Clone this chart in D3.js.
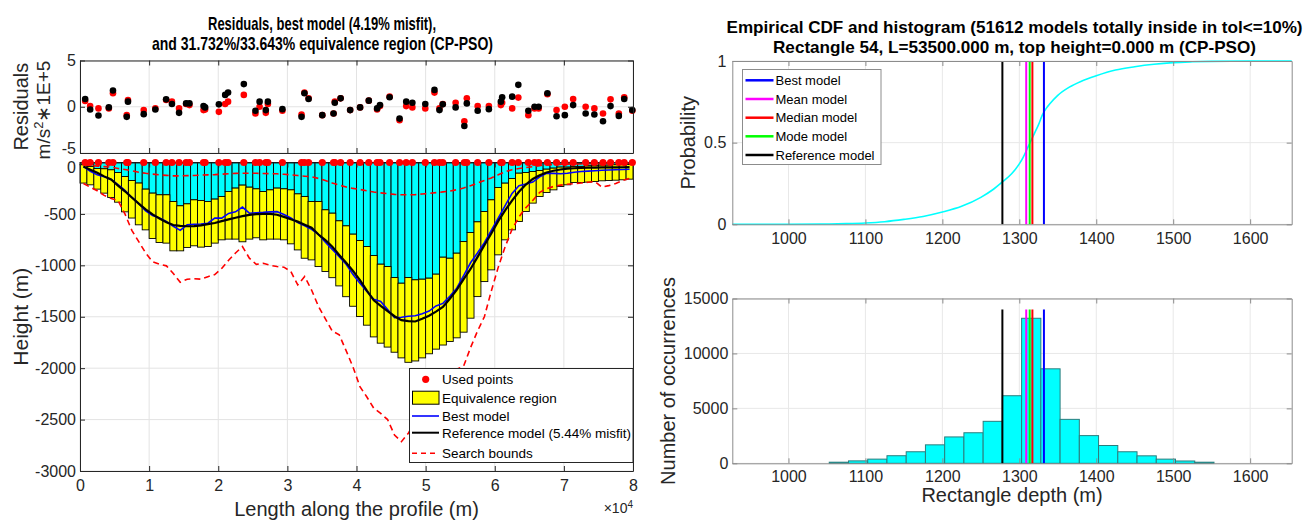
<!DOCTYPE html>
<html>
<head>
<meta charset="utf-8">
<title>Residuals, equivalence region and CDF (CP-PSO)</title>
<style>
body{ margin:0; background:#fff; }
#fig{ display:block; font-family:"Liberation Sans", Arial, Helvetica, sans-serif; }
</style>
</head>
<body>
<svg id="fig" width="1309" height="521"></svg>
<script src="https://d3js.org/d3.v7.min.js"></script>
<script>
// ---------------- data ----------------
// rectangle centres along the profile (m)
var rectCenters = [
    500,1500,2500,3500,4500,5500,6500,7500,8500,9500,
    10500,11500,12500,13500,14500,15500,16500,17500,18500,19500,
    20500,21500,22500,23500,24500,25500,26500,27500,28500,29500,
    30500,31500,32500,33500,34500,35500,36500,37500,38500,39500,
    40500,41500,42500,43500,44500,45500,46500,47500,48500,49500,
    50500,51500,52500,53500,54500,55500,56500,57500,58500,59500,
    60500,61500,62500,63500,64500,65500,66500,67500,68500,69500,
    70500,71500,72500,73500,74500,75500,76500,77500,78500,79500];
// upper limit of equivalence region (bottom of cyan part)
var eqTop = [
    -22,-38,-58,-61,-71,-97,-136,-175,-200,-259,
    -298,-314,-314,-379,-421,-402,-363,-369,-379,-356,
    -330,-282,-249,-220,-240,-256,-282,-266,-249,-256,
    -266,-305,-330,-379,-379,-460,-493,-567,-616,-697,
    -759,-817,-905,-989,-1012,-1119,-1174,-1119,-1141,-1135,
    -1125,-1086,-921,-931,-882,-769,-681,-577,-477,-363,
    -243,-201,-155,-104,-97,-88,-78,-65,-55,-45,
    -45,-38,-38,-32,-32,-26,-26,-22,-22,-19];
// lower limit of equivalence region
var eqBottom = [
    -200,-217,-259,-298,-340,-386,-480,-540,-606,-655,
    -739,-778,-784,-859,-859,-826,-810,-823,-817,-784,
    -752,-745,-745,-771,-745,-732,-752,-745,-745,-752,
    -791,-850,-931,-947,-1012,-1060,-1120,-1200,-1305,-1398,
    -1498,-1582,-1696,-1757,-1795,-1845,-1900,-1943,-1930,-1900,
    -1860,-1815,-1775,-1740,-1705,-1650,-1514,-1304,-1158,-1044,
    -898,-752,-655,-574,-477,-395,-331,-292,-266,-233,
    -217,-194,-194,-191,-185,-178,-175,-172,-168,-162];
var bestModel = [
    -40,-85,-120,-138,-165,-215,-270,-340,-400,-470,
    -515,-540,-574,-620,-660,-606,-600,-598,-590,-541,
    -541,-495,-480,-434,-493,-488,-485,-480,-478,-505,
    -540,-585,-615,-650,-700,-775,-845,-915,-990,-1090,
    -1174,-1255,-1329,-1352,-1430,-1510,-1505,-1495,-1490,-1470,
    -1445,-1395,-1370,-1300,-1222,-1100,-975,-880,-780,-660,
    -540,-420,-300,-225,-210,-190,-140,-104,-106,-110,
    -105,-95,-88,-84,-80,-76,-73,-71,-68,-65];
var refModel = [
    -39,-70,-100,-135,-165,-225,-280,-340,-400,-455,
    -505,-545,-580,-608,-617,-620,-618,-612,-600,-588,
    -570,-553,-537,-522,-510,-502,-499,-500,-508,-529,
    -552,-575,-605,-635,-700,-755,-820,-900,-975,-1055,
    -1144,-1246,-1340,-1395,-1445,-1495,-1533,-1543,-1546,-1520,
    -1490,-1450,-1405,-1325,-1239,-1135,-1035,-920,-805,-690,
    -570,-465,-370,-285,-215,-160,-125,-97,-80,-68,
    -60,-56,-53,-50,-49,-48,-48,-47,-46,-45];
var boundTop = [
    -22,-28,-35,-40,-45,-58,-68,-80,-95,-105,
    -113,-120,-125,-130,-130,-128,-126,-123,-120,-118,
    -114,-110,-106,-104,-104,-105,-107,-109,-110,-115,
    -120,-127,-133,-140,-155,-175,-200,-220,-238,-252,
    -262,-275,-287,-295,-303,-310,-314,-314,-312,-306,
    -300,-293,-286,-278,-265,-249,-225,-200,-175,-150,
    -120,-90,-70,-58,-50,-40,-30,-22,-20,-18,
    -16,-14,-13,-12,-11,-10,-9,-8,-7,-6];
var boundBottom = [
    -205,-240,-275,-320,-350,-370,-500,-660,-770,-880,
    -965,-990,-1005,-1080,-1165,-1135,-1130,-1135,-1110,-1090,
    -1030,-950,-880,-817,-930,-990,-980,-1000,-1012,-1018,
    -1060,-1190,-1109,-1240,-1400,-1520,-1640,-1675,-1830,-1990,
    -2180,-2280,-2390,-2440,-2500,-2650,-2715,-2633,-2520,-2420,
    -2320,-2240,-2160,-2080,-2010,-1980,-1800,-1640,-1500,-1250,
    -1020,-820,-650,-530,-440,-370,-290,-255,-233,-220,
    -212,-205,-200,-192,-185,-240,-225,-205,-175,-155];
// used gravity points (m) and residuals (m/s^2 * 1E+5)
var usedX = [
    750,1470,2670,4170,4770,6760,6940,9220,10900,12460,
    13300,14330,15350,15830,17870,18100,20090,21000,21420,23700,
    25380,25980,26880,27180,29280,32050,32470,33070,35050,36680,
    36860,37700,39080,40520,41780,42980,43400,44790,46230,47190,
    48080,49950,51280,52000,52480,54340,55600,55960,57530,59150,
    60880,61070,62520,63410,64860,65760,66350,67620,68940,70140,
    71340,73150,74410,75660,76750,77950,78730,79900];
var resBest = [
    0.84,-0.29,-0.95,-0.07,1.75,-1.09,0.55,-0.80,-0.29,0.80,
    0.29,-0.66,0.36,0.36,0.07,-0.07,0.26,1.28,1.53,2.45,
    -0.44,0.55,-0.36,0.55,-0.26,-1.09,1.46,0.84,-0.91,-0.73,
    0.44,0.91,-0.36,-0.07,0.66,-0.18,0.18,1.02,-1.28,0.55,
    0.44,0.29,1.82,-0.36,0.26,-0.07,-2.08,0.36,-0.44,-0.26,
    0.55,1.02,1.09,2.37,-0.44,0.00,0.00,1.46,-1.02,-0.91,
    0.18,-0.73,-0.84,-1.57,0.07,-0.99,0.84,-0.36];
var resOther = [
    0.62,0.07,-0.18,-0.18,1.46,-0.91,0.73,-0.36,-0.18,0.73,
    0.55,-0.18,0.29,0.18,-0.36,-0.29,-0.55,0.29,0.55,1.28,
    -0.73,0.00,-0.66,0.29,-0.44,-0.84,1.53,0.91,-0.91,-0.73,
    0.55,0.91,-0.36,-0.07,0.66,-0.29,0.07,1.09,-1.46,0.07,
    -0.07,-0.18,1.53,-0.18,0.29,0.44,-1.57,0.91,0.07,0.07,
    0.18,0.44,-0.18,0.99,-0.91,-0.18,-0.18,1.35,-0.36,0.00,
    0.84,0.00,-0.18,-0.73,0.80,-0.73,1.02,-0.44];
var profileTicks = [0,10000,20000,30000,40000,50000,60000,70000,80000];
var heightTicks = [-3000,-2500,-2000,-1500,-1000,-500,0];
var residualTicks = [-5,0,5];

// rectangle 54 statistics
var binLeft = [928,953,978,1003,1028,1053,1078,1103,1128,1153,1178,1203,1228,1253,1278,
    1303,1328,1353,1378,1403,1428,1453,1478,1503,1528,1553,1578,1603,1628];
var binCount = [0,0,0,0,0,100,220,380,690,1050,1680,2400,2780,3820,6150,
    13200,8600,4000,2520,1620,1050,680,380,210,100,0,0,0,0];
var cdfDepth = [927,1000,1050,1075,1100,1125,1150,1175,1200,1225,1250,1265,1278,1290,1300,1305,
    1310,1315,1320,1325,1330,1335,1340,1350,1365,1380,1400,1425,1450,1475,1500,1525,1550,1600,1654];
var cdfProb = [0,0,0.002,0.004,0.008,0.016,0.03,0.048,0.075,0.11,0.165,0.21,0.26,0.31,0.37,0.41,
    0.46,0.51,0.56,0.61,0.67,0.71,0.74,0.79,0.84,0.875,0.91,0.945,0.965,0.98,0.99,0.995,0.998,1,1];
var modelNames = ['Best model','Mean model','Median model','Mode model','Reference model'];
var modelDepth = [1332,1309,1317,1313.5,1278];
var depthTicks = [1000,1100,1200,1300,1400,1500,1600];
var probTicks = [0,0.5,1];
var countTicks = [0,5000,10000,15000];
var lineTop = 14000;

var modelColors = ['#0000ff','#ff00ff','#ff0000','#00ff00','#000000'];
var fontFam = '"Liberation Sans", Arial, Helvetica, sans-serif';

var svg = d3.select('#fig');
svg.append('rect').attr('width',1309).attr('height',521).attr('fill','#fff');

function styleAxis(sel, color, fs){
    sel.attr('font-family', fontFam).attr('font-size', fs);
    sel.selectAll('.domain').attr('stroke', color);
    sel.selectAll('.tick line').attr('stroke', color);
    sel.selectAll('.tick text').attr('fill', '#262626');
}

// one matlab-like axes: grid, data layer, box with inward ticks
function axes(x, y, xt, yt, o){
    var yb = y.range()[0], ytp = y.range()[1], xl = x.range()[0], xr = x.range()[1];
    var root = svg.append('g');
    var grid = root.append('g');
    grid.selectAll('line.gx').data(xt).join('line').attr('class','gx')
        .attr('x1', d => x(d)).attr('x2', d => x(d)).attr('y1', ytp).attr('y2', yb)
        .attr('stroke', o.grid);
    grid.selectAll('line.gy').data(yt).join('line').attr('class','gy')
        .attr('y1', d => y(d)).attr('y2', d => y(d)).attr('x1', xl).attr('x2', xr)
        .attr('stroke', o.grid);
    var plot = root.append('g');
    var box = root.append('g');
    var none = function(){ return ''; };
    box.append('g').attr('transform','translate(0,'+yb+')')
        .call(d3.axisBottom(x).tickValues(xt).tickSizeInner(-5).tickSizeOuter(0)
            .tickPadding(o.xPad).tickFormat(o.xFmt || none))
        .call(styleAxis, o.axis, o.fs);
    box.append('g').attr('transform','translate(0,'+ytp+')')
        .call(d3.axisTop(x).tickValues(xt).tickSizeInner(-5).tickSizeOuter(0).tickFormat(none))
        .call(styleAxis, o.axis, o.fs);
    var left = box.append('g').attr('transform','translate('+xl+',0)')
        .call(d3.axisLeft(y).tickValues(yt).tickSizeInner(-5).tickSizeOuter(0)
            .tickPadding(o.yPad).tickFormat(o.yFmt || none))
        .call(styleAxis, o.axis, o.fs);
    box.append('g').attr('transform','translate('+xr+',0)')
        .call(d3.axisRight(y).tickValues(yt).tickSizeInner(-5).tickSizeOuter(0).tickFormat(none))
        .call(styleAxis, o.axis, o.fs);
    var over = root.append('g');
    return {plot: plot, over: over, left: left};
}

function label(x, y, txt, fs, rot, weight){
    return svg.append('text')
        .attr('transform','translate('+x+','+y+')'+(rot ? ' rotate(-90)' : ''))
        .attr('text-anchor','middle').attr('font-family', fontFam)
        .attr('font-size', fs).attr('font-weight', weight || 'normal')
        .attr('fill','#262626').text(txt);
}

// ---------------- left: residuals ----------------
var xL = d3.scaleLinear().domain([0, 80000]).range([80, 633]);
var yRes = d3.scaleLinear().domain([-5, 5]).range([153, 60.5]);
var yMain = d3.scaleLinear().domain([-3000, 0]).range([471, 162.5]);
var band = d3.scaleBand().domain(rectCenters).range([xL(0), xL(80000)]).padding(0);

var res = axes(xL, yRes, profileTicks, residualTicks,
    {grid:'#e3e3e3', axis:'#262626', fs:16, xPad:8, yPad:4, yFmt: d => String(d)});
res.plot.selectAll('circle.r').data(usedX).join('circle').attr('class','r')
    .attr('cx', d => xL(d)).attr('cy', (d,i) => yRes(resOther[i])).attr('r', 3.3).attr('fill','#ff0000');
res.plot.selectAll('circle.b').data(usedX).join('circle').attr('class','b')
    .attr('cx', d => xL(d)).attr('cy', (d,i) => yRes(resBest[i])).attr('r', 3.3).attr('fill','#000');
// the -5 and 0 labels of the two stacked axes nearly touch, as in the original
res.left.selectAll('.tick text').filter(d => d === -5).attr('dy','0.05em');

// ---------------- left: equivalence region ----------------
var main = axes(xL, yMain, profileTicks, heightTicks,
    {grid:'#e3e3e3', axis:'#262626', fs:16, xPad:9, yPad:4,
     xFmt: d => String(d/10000), yFmt: d => String(d)});
main.left.selectAll('.tick text').filter(d => d === 0).attr('dy','0.62em');
main.plot.selectAll('rect.cy').data(rectCenters).join('rect').attr('class','cy')
    .attr('x', d => band(d)).attr('width', band.bandwidth())
    .attr('y', yMain(0)).attr('height', (d,i) => yMain(eqTop[i]) - yMain(0))
    .attr('fill','#00ffff').attr('stroke','#000').attr('stroke-width',0.9);
main.plot.selectAll('rect.ye').data(rectCenters).join('rect').attr('class','ye')
    .attr('x', d => band(d)).attr('width', band.bandwidth())
    .attr('y', (d,i) => yMain(eqTop[i])).attr('height', (d,i) => yMain(eqBottom[i]) - yMain(eqTop[i]))
    .attr('fill','#ffff00').attr('stroke','#000').attr('stroke-width',0.9);

var prof = d3.line().x((d,i) => xL(rectCenters[i])).y(d => yMain(d));
[boundTop, boundBottom].forEach(function(s){
    main.plot.append('path').attr('d', prof(s)).attr('fill','none')
        .attr('stroke','#ff0000').attr('stroke-width',1.6).attr('stroke-dasharray','6,4');
});
main.plot.append('path').attr('d', prof(bestModel)).attr('fill','none')
    .attr('stroke','#0000ff').attr('stroke-width',1.6);
main.plot.append('path').attr('d', prof(refModel)).attr('fill','none')
    .attr('stroke','#000').attr('stroke-width',2.2);
main.over.selectAll('circle').data(usedX).join('circle')
    .attr('cx', d => xL(d)).attr('cy', yMain(0)).attr('r', 3.6).attr('fill','#ff0000');

// legend
var lg = svg.append('g').attr('font-family', fontFam).attr('font-size', 13.5);
lg.append('rect').attr('x',409.5).attr('y',368.5).attr('width',223.5).attr('height',94)
    .attr('fill','#fff').attr('stroke','#262626');
var lgRows = [379.3, 397.7, 416, 432.7, 453.3];
var lgText = ['Used points','Equivalence region','Best model','Reference model (5.44% misfit)','Search bounds'];
lg.append('circle').attr('cx',425.7).attr('cy',lgRows[0]).attr('r',3.6).attr('fill','#ff0000');
lg.append('rect').attr('x',412.5).attr('y',lgRows[1]-6.5).attr('width',26.5).attr('height',13)
    .attr('fill','#ffff00').attr('stroke','#000');
lg.append('line').attr('x1',412).attr('x2',439).attr('y1',lgRows[2]).attr('y2',lgRows[2])
    .attr('stroke','#0000ff').attr('stroke-width',1.6);
lg.append('line').attr('x1',412).attr('x2',439).attr('y1',lgRows[3]).attr('y2',lgRows[3])
    .attr('stroke','#000').attr('stroke-width',2);
lg.append('line').attr('x1',412).attr('x2',439).attr('y1',lgRows[4]).attr('y2',lgRows[4])
    .attr('stroke','#ff0000').attr('stroke-width',1.6).attr('stroke-dasharray','5,4');
lg.selectAll('text').data(lgText).join('text')
    .attr('x',442).attr('y',(d,i) => lgRows[i] + 4.8).attr('fill','#000').text(d => d);

// titles and axis labels (left)
label(322, 30, 'Residuals, best model (4.19% misfit),', 19, false, 'bold')
    .attr('fill','#000').attr('textLength',228).attr('lengthAdjust','spacingAndGlyphs');
label(322.5, 50, 'and 31.732%/33.643% equivalence region (CP-PSO)', 19, false, 'bold')
    .attr('fill','#000').attr('textLength',341).attr('lengthAdjust','spacingAndGlyphs');
label(28, 106.7, 'Residuals', 20, true);
var ul = label(50, 110, '', 19, true);
ul.append('tspan').text('m/s');
ul.append('tspan').attr('baseline-shift','super').attr('font-size',13).text('2');
ul.append('tspan').text('\u22171E+5');
label(28, 316.7, 'Height (m)', 21, true);
label(356.5, 516, 'Length along the profile (m)', 20, false);
var ex = svg.append('text').attr('x',633).attr('y',513).attr('text-anchor','end')
    .attr('font-family', fontFam).attr('font-size',14).attr('fill','#262626');
ex.append('tspan').text('\u00d710');
ex.append('tspan').attr('baseline-shift','super').attr('font-size',10).text('4');

// ---------------- right: CDF ----------------
var xR = d3.scaleLinear().domain([927, 1654]).range([732.3, 1291.7]);
var yCdf = d3.scaleLinear().domain([0, 1]).range([224.3, 61]);
var yHist = d3.scaleLinear().domain([0, 15000]).range([463.3, 298.5]);

var cdf = axes(xR, yCdf, depthTicks, probTicks,
    {grid:'#e8e8e8', axis:'#8c8c8c', fs:16, xPad:8, yPad:6,
     xFmt: d => String(d), yFmt: d => String(d)});
cdf.plot.append('path')
    .attr('d', d3.line().curve(d3.curveMonotoneX).x((d,i) => xR(cdfDepth[i])).y(d => yCdf(d))(cdfProb))
    .attr('fill','none').attr('stroke','#00ffff').attr('stroke-width',1.6);
cdf.plot.selectAll('line.m').data(modelDepth).join('line').attr('class','m')
    .attr('x1', d => xR(d)).attr('x2', d => xR(d)).attr('y1', yCdf(0)).attr('y2', yCdf(1))
    .attr('stroke', (d,i) => modelColors[i]).attr('stroke-width', 2);

var cl = svg.append('g').attr('font-family', fontFam).attr('font-size', 13);
cl.append('rect').attr('x',742.5).attr('y',69.5).attr('width',138.5).attr('height',95)
    .attr('fill','#fff').attr('stroke','#8c8c8c');
var clRows = [80.3, 99, 117.7, 136.3, 155];
cl.selectAll('line').data(modelNames).join('line')
    .attr('x1',745.5).attr('x2',773.5).attr('y1',(d,i) => clRows[i]).attr('y2',(d,i) => clRows[i])
    .attr('stroke',(d,i) => modelColors[i]).attr('stroke-width',2.5);
cl.selectAll('text').data(modelNames).join('text')
    .attr('x',775.5).attr('y',(d,i) => clRows[i] + 4.6).attr('fill','#000').text(d => d);

// ---------------- right: histogram ----------------
var hist = axes(xR, yHist, depthTicks, countTicks,
    {grid:'#e8e8e8', axis:'#8c8c8c', fs:16, xPad:7, yPad:4,
     xFmt: d => String(d), yFmt: d => String(d)});
var binW = binLeft[1] - binLeft[0];
hist.plot.selectAll('rect').data(binLeft).join('rect')
    .attr('x', d => xR(d)).attr('width', d => xR(d + binW) - xR(d))
    .attr('y', (d,i) => yHist(binCount[i])).attr('height', (d,i) => yHist(0) - yHist(binCount[i]))
    .attr('fill','#00ffff').attr('stroke','#2b7d7d').attr('stroke-width',1);
hist.plot.selectAll('line.m').data(modelDepth).join('line').attr('class','m')
    .attr('x1', d => xR(d)).attr('x2', d => xR(d)).attr('y1', yHist(0)).attr('y2', yHist(lineTop))
    .attr('stroke', (d,i) => modelColors[i]).attr('stroke-width', 2);

label(1014.5, 33, 'Empirical CDF and histogram (51612 models totally inside in tol<=10%)', 16, false, 'bold')
    .attr('fill','#000').attr('textLength',576).attr('lengthAdjust','spacingAndGlyphs');
label(1014.5, 53, 'Rectangle 54, L=53500.000 m, top height=0.000 m (CP-PSO)', 16.5, false, 'bold')
    .attr('fill','#000').attr('textLength',483).attr('lengthAdjust','spacingAndGlyphs');
label(695, 142.7, 'Probability', 20, true);
label(675, 381, 'Number of occurrences', 20, true);
label(1012, 502, 'Rectangle depth (m)', 20, false);
</script>
</body>
</html>
